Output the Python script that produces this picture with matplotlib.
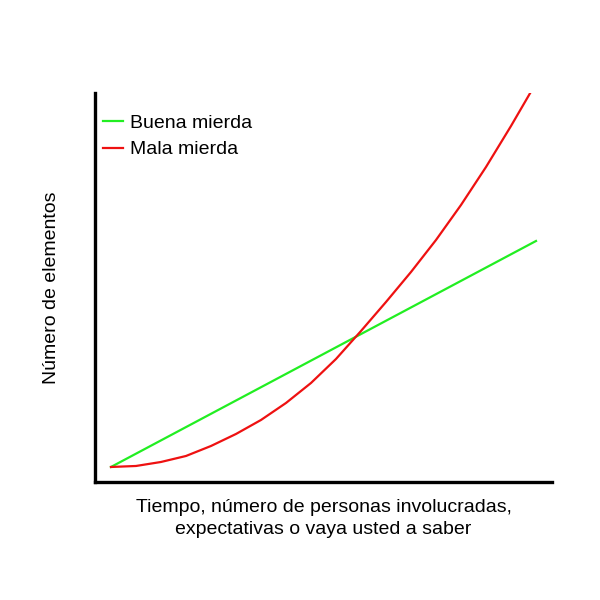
import matplotlib

matplotlib.use("Agg")
import matplotlib.pyplot as plt

plt.rcParams["font.family"] = ["Liberation Sans", "DejaVu Sans"]

# eje x: pasos iguales
x_vals = [0, 1, 2, 3, 4, 5, 6, 7, 8, 9, 10, 11, 12, 13, 14, 15, 16, 17]
# buena mierda: recta
buena_x = [0, 17]
buena_y = [0, 22.6]
# mala mierda: curva que se dispara
mala_y = [0, 0.1, 0.5, 1.1, 2.1, 3.3, 4.7, 6.4, 8.4, 10.8, 13.6,
          16.5, 19.5, 22.7, 26.2, 30.0, 34.1, 38.4]

fig = plt.figure(figsize=(6, 6), dpi=100)
ax = fig.add_axes([0.1583, 0.1967, 0.7617, 0.6483])

ax.plot(buena_x, buena_y, color="#22ee22", lw=1.6, label="Buena mierda")
ax.plot(x_vals, mala_y, color="#ee1111", lw=1.6, label="Mala mierda")

ax.set_xlim(-0.64, 17.64)
ax.set_ylim(-1.5, 37.4)
ax.set_xticks([])
ax.set_yticks([])
for s in ("top", "right"):
    ax.spines[s].set_visible(False)
for s in ("left", "bottom"):
    ax.spines[s].set_linewidth(2.4)
    ax.spines[s].set_color("black")

ax.set_xlabel("Tiempo, número de personas involucradas,\nexpectativas o vaya usted a saber",
              fontsize=14, linespacing=1.4, labelpad=12)
ax.set_ylabel("Número de elementos", fontsize=14, labelpad=25)

ax.legend(loc="upper left", frameon=False, fontsize=14, handlelength=1.0,
          handletextpad=0.4, borderaxespad=0.0, labelspacing=0.45,
          borderpad=0.3, bbox_to_anchor=(0.005, 0.96))

fig.savefig("out.png", dpi=100)
